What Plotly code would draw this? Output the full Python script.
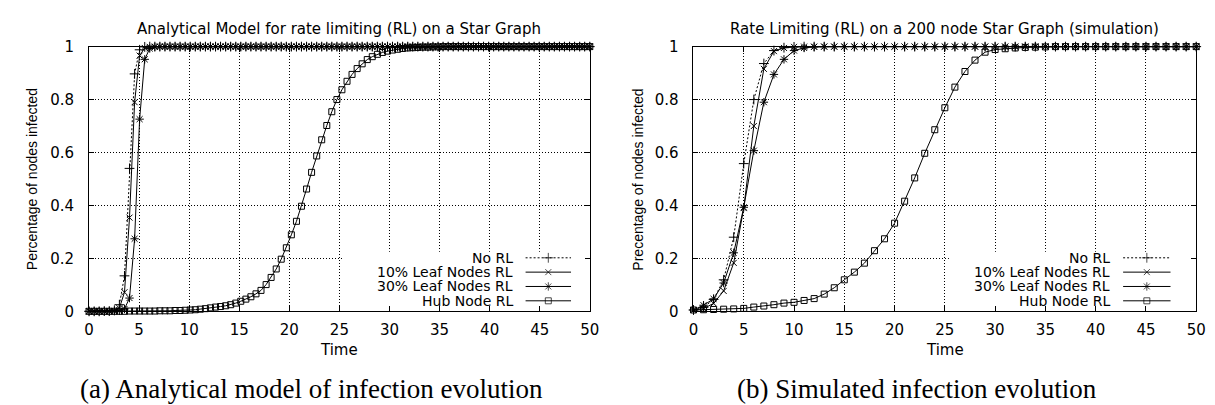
import plotly.graph_objects as go

# ---------------- data ----------------
series_names = ["No RL", "10% Leaf Nodes RL", "30% Leaf Nodes RL", "Hub Node RL"]

# (a) analytical model, 100 samples over 0..50
time_model = [
    0.00, 0.51, 1.01, 1.52, 2.02, 2.53, 3.03, 3.54, 4.04, 4.55,
    5.05, 5.56, 6.06, 6.57, 7.07, 7.58, 8.08, 8.59, 9.09, 9.60,
    10.10, 10.61, 11.11, 11.62, 12.12, 12.63, 13.13, 13.64, 14.14, 14.65,
    15.15, 15.66, 16.16, 16.67, 17.17, 17.68, 18.18, 18.69, 19.19, 19.70,
    20.20, 20.71, 21.21, 21.72, 22.22, 22.73, 23.23, 23.74, 24.24, 24.75,
    25.25, 25.76, 26.26, 26.77, 27.27, 27.78, 28.28, 28.79, 29.29, 29.80,
    30.30, 30.81, 31.31, 31.82, 32.32, 32.83, 33.33, 33.84, 34.34, 34.85,
    35.35, 35.86, 36.36, 36.87, 37.37, 37.88, 38.38, 38.89, 39.39, 39.90,
    40.40, 40.91, 41.41, 41.92, 42.42, 42.93, 43.43, 43.94, 44.44, 44.95,
    45.45, 45.96, 46.46, 46.97, 47.47, 47.98, 48.48, 48.99, 49.49, 50.00,
]
model_no_rl = [
    0.000, 0.000, 0.000, 0.001, 0.001, 0.004, 0.025, 0.134, 0.540, 0.897,
    0.988, 0.999, 1.000, 1.000, 1.000, 1.000, 1.000, 1.000, 1.000, 1.000,
    1.000, 1.000, 1.000, 1.000, 1.000, 1.000, 1.000, 1.000, 1.000, 1.000,
    1.000, 1.000, 1.000, 1.000, 1.000, 1.000, 1.000, 1.000, 1.000, 1.000,
    1.000, 1.000, 1.000, 1.000, 1.000, 1.000, 1.000, 1.000, 1.000, 1.000,
    1.000, 1.000, 1.000, 1.000, 1.000, 1.000, 1.000, 1.000, 1.000, 1.000,
    1.000, 1.000, 1.000, 1.000, 1.000, 1.000, 1.000, 1.000, 1.000, 1.000,
    1.000, 1.000, 1.000, 1.000, 1.000, 1.000, 1.000, 1.000, 1.000, 1.000,
    1.000, 1.000, 1.000, 1.000, 1.000, 1.000, 1.000, 1.000, 1.000, 1.000,
    1.000, 1.000, 1.000, 1.000, 1.000, 1.000, 1.000, 1.000, 1.000, 1.000,
]
model_leaf10 = [
    0.000, 0.000, 0.000, 0.000, 0.001, 0.002, 0.012, 0.072, 0.354, 0.790,
    0.966, 0.995, 0.999, 1.000, 1.000, 1.000, 1.000, 1.000, 1.000, 1.000,
    1.000, 1.000, 1.000, 1.000, 1.000, 1.000, 1.000, 1.000, 1.000, 1.000,
    1.000, 1.000, 1.000, 1.000, 1.000, 1.000, 1.000, 1.000, 1.000, 1.000,
    1.000, 1.000, 1.000, 1.000, 1.000, 1.000, 1.000, 1.000, 1.000, 1.000,
    1.000, 1.000, 1.000, 1.000, 1.000, 1.000, 1.000, 1.000, 1.000, 1.000,
    1.000, 1.000, 1.000, 1.000, 1.000, 1.000, 1.000, 1.000, 1.000, 1.000,
    1.000, 1.000, 1.000, 1.000, 1.000, 1.000, 1.000, 1.000, 1.000, 1.000,
    1.000, 1.000, 1.000, 1.000, 1.000, 1.000, 1.000, 1.000, 1.000, 1.000,
    1.000, 1.000, 1.000, 1.000, 1.000, 1.000, 1.000, 1.000, 1.000, 1.000,
]
model_leaf30 = [
    0.000, 0.000, 0.000, 0.000, 0.000, 0.001, 0.002, 0.009, 0.050, 0.274,
    0.726, 0.952, 0.993, 0.999, 1.000, 1.000, 1.000, 1.000, 1.000, 1.000,
    1.000, 1.000, 1.000, 1.000, 1.000, 1.000, 1.000, 1.000, 1.000, 1.000,
    1.000, 1.000, 1.000, 1.000, 1.000, 1.000, 1.000, 1.000, 1.000, 1.000,
    1.000, 1.000, 1.000, 1.000, 1.000, 1.000, 1.000, 1.000, 1.000, 1.000,
    1.000, 1.000, 1.000, 1.000, 1.000, 1.000, 1.000, 1.000, 1.000, 1.000,
    1.000, 1.000, 1.000, 1.000, 1.000, 1.000, 1.000, 1.000, 1.000, 1.000,
    1.000, 1.000, 1.000, 1.000, 1.000, 1.000, 1.000, 1.000, 1.000, 1.000,
    1.000, 1.000, 1.000, 1.000, 1.000, 1.000, 1.000, 1.000, 1.000, 1.000,
    1.000, 1.000, 1.000, 1.000, 1.000, 1.000, 1.000, 1.000, 1.000, 1.000,
]
model_hub = [
    0.000, 0.000, 0.000, 0.000, 0.000, 0.000, 0.000, 0.000, 0.001, 0.001,
    0.001, 0.001, 0.001, 0.001, 0.002, 0.002, 0.002, 0.003, 0.003, 0.004,
    0.005, 0.006, 0.008, 0.010, 0.013, 0.016, 0.018, 0.021, 0.025, 0.031,
    0.038, 0.046, 0.055, 0.066, 0.079, 0.101, 0.128, 0.160, 0.197, 0.240,
    0.289, 0.340, 0.397, 0.462, 0.525, 0.587, 0.648, 0.702, 0.754, 0.800,
    0.837, 0.869, 0.895, 0.917, 0.935, 0.951, 0.962, 0.971, 0.978, 0.983,
    0.987, 0.990, 0.993, 0.995, 0.996, 0.997, 0.998, 0.998, 0.999, 0.999,
    1.000, 1.000, 1.000, 1.000, 1.000, 1.000, 1.000, 1.000, 1.000, 1.000,
    1.000, 1.000, 1.000, 1.000, 1.000, 1.000, 1.000, 1.000, 1.000, 1.000,
    1.000, 1.000, 1.000, 1.000, 1.000, 1.000, 1.000, 1.000, 1.000, 1.000,
]

# (b) simulation, one sample per time unit
time_sim = [
    0, 1, 2, 3, 4, 5, 6, 7, 8, 9, 10, 11, 12, 13, 14, 15, 16, 17, 18, 19,
    20, 21, 22, 23, 24, 25, 26, 27, 28, 29, 30, 31, 32, 33, 34, 35, 36, 37,
    38, 39, 40, 41, 42, 43, 44, 45, 46, 47, 48, 49, 50,
]
sim_no_rl = [
    0.005, 0.015, 0.045, 0.119, 0.280, 0.558, 0.800, 0.936, 0.985, 0.996,
    0.999, 1.000, 1.000, 1.000, 1.000, 1.000, 1.000, 1.000, 1.000, 1.000,
    1.000, 1.000, 1.000, 1.000, 1.000, 1.000, 1.000, 1.000, 1.000, 1.000,
    1.000, 1.000, 1.000, 1.000, 1.000, 1.000, 1.000, 1.000, 1.000, 1.000,
    1.000, 1.000, 1.000, 1.000, 1.000, 1.000, 1.000, 1.000, 1.000, 1.000,
    1.000,
]
sim_leaf10 = [
    0.005, 0.010, 0.030, 0.077, 0.183, 0.390, 0.700, 0.916, 0.983, 0.995,
    0.999, 1.000, 1.000, 1.000, 1.000, 1.000, 1.000, 1.000, 1.000, 1.000,
    1.000, 1.000, 1.000, 1.000, 1.000, 1.000, 1.000, 1.000, 1.000, 1.000,
    1.000, 1.000, 1.000, 1.000, 1.000, 1.000, 1.000, 1.000, 1.000, 1.000,
    1.000, 1.000, 1.000, 1.000, 1.000, 1.000, 1.000, 1.000, 1.000, 1.000,
    1.000,
]
sim_leaf30 = [
    0.005, 0.023, 0.047, 0.107, 0.221, 0.393, 0.607, 0.790, 0.895, 0.952,
    0.985, 0.995, 0.999, 1.000, 1.000, 1.000, 1.000, 1.000, 1.000, 1.000,
    1.000, 1.000, 1.000, 1.000, 1.000, 1.000, 1.000, 1.000, 1.000, 1.000,
    1.000, 1.000, 1.000, 1.000, 1.000, 1.000, 1.000, 1.000, 1.000, 1.000,
    1.000, 1.000, 1.000, 1.000, 1.000, 1.000, 1.000, 1.000, 1.000, 1.000,
    1.000,
]
sim_hub = [
    0.005, 0.006, 0.007, 0.008, 0.009, 0.011, 0.016, 0.020, 0.025, 0.031,
    0.034, 0.041, 0.048, 0.065, 0.089, 0.119, 0.148, 0.182, 0.229, 0.274,
    0.333, 0.416, 0.504, 0.597, 0.686, 0.769, 0.847, 0.906, 0.949, 0.979,
    0.989, 0.992, 0.995, 0.997, 0.998, 0.999, 1.000, 1.000, 1.000, 1.000,
    1.000, 1.000, 1.000, 1.000, 1.000, 1.000, 1.000, 1.000, 1.000, 1.000,
    1.000,
]

x_tick_vals = [0, 5, 10, 15, 20, 25, 30, 35, 40, 45, 50]
y_tick_vals = [0, 0.2, 0.4, 0.6, 0.8, 1]
y_tick_text = ["0", "0.2", "0.4", "0.6", "0.8", "1"]

titles = ["Analytical Model for rate limiting (RL) on a Star Graph",
          "Rate Limiting (RL) on a 200 node Star Graph (simulation)"]
y_titles = ["Percentage of nodes infected", "Precentage of nodes infected"]
captions = ["(a) Analytical model of infection evolution",
            "(b) Simulated infection evolution"]

# ---------------- styling / layout ----------------
W, H = 1215, 405
SANS = "DejaVu Sans, Liberation Sans, Arial, sans-serif"
SANS_V = "Liberation Sans, Arial, Helvetica, sans-serif"
SERIF = "Liberation Serif, Times New Roman, serif"
FS = 15
FS_KEY = 14

styles = [
    dict(symbol="cross-thin-open", size=7, dash="2px,2px"),
    dict(symbol="x-thin-open", size=6, dash="solid"),
    dict(symbol="asterisk-open", size=7, dash="solid"),
    dict(symbol="square-open", size=6, dash="solid"),
]

# plot boxes in pixels: (left, top, right, bottom)
boxes = [(77, 31, 584, 308), (689, 31, 1198, 308)]
# custom key geometry per panel: text right edge, line start, line end (px)
key_geo = [(508, 519, 565), (1113, 1124, 1172)]
caption_cx = [302, 915]
ylabel_x = [20, 633]


def xdom(b):
    return [b[0] / W, b[2] / W]


def ydom(b):
    return [1 - b[3] / H, 1 - b[1] / H]


fig = go.Figure()

panels = [
    (time_model, [model_no_rl, model_leaf10, model_leaf30, model_hub], "x", "y"),
    (time_sim, [sim_no_rl, sim_leaf10, sim_leaf30, sim_hub], "x2", "y2"),
]
for tx, ys, xa, ya in panels:
    for name, yv, st in zip(series_names, ys, styles):
        fig.add_trace(go.Scatter(
            x=tx, y=yv, name=name, xaxis=xa, yaxis=ya,
            mode="lines+markers", showlegend=False, cliponaxis=False,
            line=dict(color="black", width=1, dash=st["dash"]),
            marker=dict(symbol=st["symbol"], size=st["size"], color="black",
                        line=dict(color="black", width=1)),
        ))

axis_common = dict(
    showline=True, linecolor="black", linewidth=1, mirror="ticks",
    ticks="inside", ticklen=5, tickwidth=1, tickcolor="black",
    showgrid=True, gridcolor="black", gridwidth=1, griddash="1px,2px",
    zeroline=False, tickfont=dict(family=SANS, size=FS, color="black"),
)

layout = dict(
    width=W, height=H, margin=dict(l=0, r=0, t=0, b=0),
    paper_bgcolor="white", plot_bgcolor="rgba(0,0,0,0)", showlegend=False,
)
for k, b in enumerate(boxes):
    sx = "" if k == 0 else str(k + 1)
    layout["xaxis" + sx] = dict(
        axis_common, domain=xdom(b), anchor="y" + sx, range=[0, 50],
        tickvals=x_tick_vals, ticklabelstandoff=5,
    )
    layout["yaxis" + sx] = dict(
        axis_common, domain=ydom(b), anchor="x" + sx, range=[0, 1],
        tickvals=y_tick_vals, ticktext=y_tick_text, ticklabelstandoff=11,
    )

# overlay axes (pixel coordinates) used only for the custom legend keys
layout["xaxis3"] = dict(domain=[0, 1], anchor="y3", range=[0, W], visible=False,
                        fixedrange=True)
layout["yaxis3"] = dict(domain=[0, 1], anchor="x3", range=[H, 0], visible=False,
                        fixedrange=True)
fig.update_layout(**layout)

annotations = []
shapes = []
row_y0, row_dy = 252, 15
for k, b in enumerate(boxes):
    left, top, right, bottom = b
    cx = (left + right) / 2
    sx = "" if k == 0 else str(k + 1)
    txt_r, ln0, ln1 = key_geo[k]
    # title
    annotations.append(dict(text=titles[k], x=cx / W, y=1 - 12.5 / H, xref="paper",
                            yref="paper", showarrow=False, xanchor="center",
                            yanchor="middle", font=dict(family=SANS, size=FS, color="black")))
    # x title
    annotations.append(dict(text="Time", x=cx / W, y=1 - 348 / H, xref="paper",
                            yref="paper", showarrow=False, xanchor="center",
                            yanchor="middle", font=dict(family=SANS, size=FS, color="black")))
    # y title
    annotations.append(dict(text=y_titles[k], x=ylabel_x[k] / W, y=1 - 170 / H,
                            xref="paper", yref="paper", showarrow=False,
                            textangle=-90, xanchor="center", yanchor="middle",
                            font=dict(family=SANS_V, size=14, color="black")))
    # caption
    annotations.append(dict(text=captions[k], x=caption_cx[k] / W, y=1 - 389 / H,
                            xref="paper", yref="paper", showarrow=False,
                            xanchor="center", yanchor="middle",
                            font=dict(family=SERIF, size=27, color="black")))
    # opaque key box hiding the grid (between grid and traces)
    shapes.append(dict(type="rect", xref="x" + sx, yref="y" + sx,
                       x0=25.4, x1=49.6, y0=0.02, y1=0.225, layer="between",
                       fillcolor="white", line=dict(width=0)))
    # legend entries
    for j, (name, st) in enumerate(zip(series_names, styles)):
        ry = row_y0 + j * row_dy
        annotations.append(dict(text=name, x=txt_r / W, y=1 - ry / H,
                                xref="paper", yref="paper", showarrow=False,
                                xanchor="right", yanchor="middle",
                                font=dict(family=SANS, size=FS_KEY, color="black")))
        fig.add_trace(go.Scatter(
            x=[ln0, (ln0 + ln1) / 2, ln1], y=[ry, ry, ry],
            xaxis="x3", yaxis="y3", mode="lines+markers", showlegend=False,
            hoverinfo="skip", cliponaxis=False,
            line=dict(color="black", width=1, dash=st["dash"]),
            marker=dict(symbol=st["symbol"], size=[0, st["size"], 0], color="black",
                        line=dict(color="black", width=1)),
        ))

fig.update_layout(annotations=annotations, shapes=shapes)
fig.write_html("out.html")
